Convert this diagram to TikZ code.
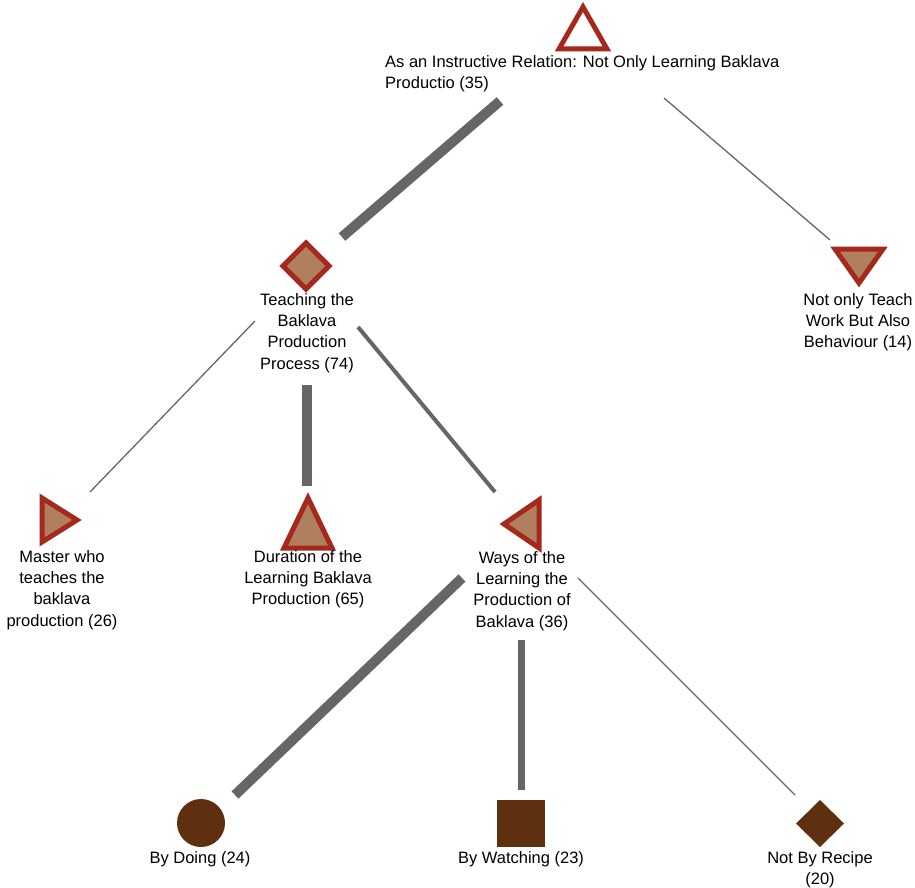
\documentclass[tikz,border=0pt]{standalone}
\usepackage{fontspec}
\setmainfont{Liberation Sans}
\usetikzlibrary{shapes.geometric}
\definecolor{edgegray}{HTML}{666666}
\definecolor{outlinered}{HTML}{A5281C}
\definecolor{tanfill}{HTML}{B07F5E}
\definecolor{leafbrown}{HTML}{5F3010}
\begin{document}
\begin{tikzpicture}[x=1pt,y=-1pt,
  lbl/.style={font=\fontsize{16.5}{21.3}\selectfont, align=center, inner sep=0pt, anchor=north},
  redmark/.style={draw=outlinered, line width=5pt, line join=miter},
  leaf/.style={fill=leafbrown},
  thinlink/.style={draw=edgegray, line width=1.3pt},
  midlink/.style={draw=edgegray, line width=4pt},
  widelink/.style={draw=edgegray, line width=7pt},
  heavylink/.style={draw=edgegray, line width=10pt}]
\useasboundingbox (0,0) rectangle (915,888);

% markers
\draw[redmark, fill=white] (583,7) -- (607,49) -- (559,49) -- cycle;
\draw[redmark, fill=tanfill] (306,243) -- (329,266) -- (306,289) -- (283,266) -- cycle;
\draw[redmark, fill=tanfill] (835,249) -- (883,249) -- (859,283) -- cycle;
\draw[redmark, fill=tanfill] (42,498) -- (77,520) -- (42,542) -- cycle;
\draw[redmark, fill=tanfill] (308,498) -- (332,548) -- (284,548) -- cycle;
\draw[redmark, fill=tanfill] (539,500) -- (539,548) -- (504,524) -- cycle;
\fill[leaf] (201,823) circle (24);
\fill[leaf] (497,800) rectangle (545,847);
\fill[leaf] (820,800) -- (844,823.5) -- (820,847) -- (796,823.5) -- cycle;

% labels
\node[lbl, anchor=north west, align=left] (root) at (385,55) {As an Instructive Relation: Not Only Learning Baklava\\Productio (35)};
\node[lbl] (teach) at (307,293) {Teaching the\\Baklava\\Production\\Process (74)};
\node[lbl] (beh) at (858,293) {Not only Teach\\Work But Also\\Behaviour (14)};
\node[lbl] (master) at (62,550) {Master who\\teaches the\\baklava\\production (26)};
\node[lbl] (dur) at (308,550) {Duration of the\\Learning Baklava\\Production (65)};
\node[lbl] (ways) at (522,551) {Ways of the\\Learning the\\Production of\\Baklava (36)};
\node[lbl] (doing) at (200,851) {By Doing (24)};
\node[lbl] (watch) at (521,851) {By Watching (23)};
\node[lbl] (recipe) at (820,851) {Not By Recipe\\(20)};

% connector end points
\coordinate (r1) at (500,101);
\coordinate (t0) at (342,237);
\coordinate (r2) at (664,98);
\coordinate (b0) at (830,240);
\coordinate (t1) at (255,321);
\coordinate (m0) at (90,492);
\coordinate (t2) at (307,385);
\coordinate (d0) at (307,486);
\coordinate (t3) at (358,327);
\coordinate (w0) at (495,492);
\coordinate (w1) at (462,578);
\coordinate (g0) at (235,795);
\coordinate (w2) at (521,640);
\coordinate (s0) at (521,790);
\coordinate (w3) at (578,578);
\coordinate (n0) at (795,795);

% connectors
\draw[heavylink] (r1) -- (t0);
\draw[thinlink] (r2) -- (b0);
\draw[thinlink] (t1) -- (m0);
\draw[heavylink] (t2) -- (d0);
\draw[midlink] (t3) -- (w0);
\draw[heavylink] (w1) -- (g0);
\draw[widelink] (w2) -- (s0);
\draw[thinlink] (w3) -- (n0);
\end{tikzpicture}
\end{document}
